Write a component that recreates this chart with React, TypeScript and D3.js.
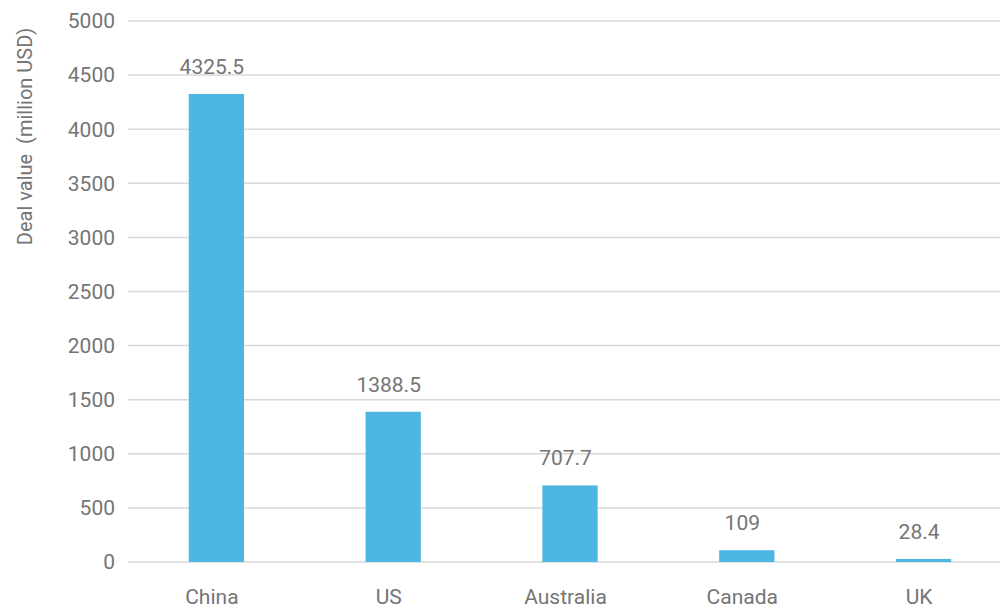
import React from "react";
import * as d3 from "d3";

const categories = ["China", "US", "Australia", "Canada", "UK"];
const values = [4325.5, 1388.5, 707.7, 109, 28.4];
const valueLabels = ["4325.5", "1388.5", "707.7", "109", "28.4"];
const yTicks = [0, 500, 1000, 1500, 2000, 2500, 3000, 3500, 4000, 4500, 5000];
const yTitle = "Deal value\u00a0\u00a0(million USD)";

export default function App() {
  const W = 1000;
  const H = 610;
  const x = d3.scaleBand<string>().domain(categories).range([128, 1012]).paddingInner(0.6875).paddingOuter(0.34375);
  const y = d3.scaleLinear().domain([0, 5000]).range([562, 21]);
  const bw = x.bandwidth();
  const text = "#757575";
  const font = "Roboto, 'Noto Sans', sans-serif";
  return (
    <svg width={W} height={H} style={{ position: "absolute", left: 0, top: 0, background: "#fff" }} fontFamily={font}>
      {yTicks.map((t) => (
        <g key={t}>
          <line x1={128} x2={1000} y1={y(t)} y2={y(t)} stroke="#d9d9d9" strokeWidth={1.5} />
          <text x={115} y={y(t)} dy="0.35em" textAnchor="end" fontSize={21} fill={text}>
            {t}
          </text>
        </g>
      ))}
      {categories.map((c, i) => {
        const bx = x(c) as number;
        const cx = bx + bw / 2;
        return (
          <g key={c}>
            <rect x={bx} y={y(values[i])} width={bw} height={y(0) - y(values[i])} fill="#4DB6E2" />
            <text x={cx - 4.5} y={y(values[i]) - 20} textAnchor="middle" fontSize={21} fill={text}>
              {valueLabels[i]}
            </text>
            <text x={cx - 4.5} y={604} textAnchor="middle" fontSize={21} fill={text}>
              {c}
            </text>
          </g>
        );
      })}
      <text transform={`translate(32,136.5) rotate(-90)`} textAnchor="middle" fontSize={20} fill={text}>
        {yTitle}
      </text>
    </svg>
  );
}
